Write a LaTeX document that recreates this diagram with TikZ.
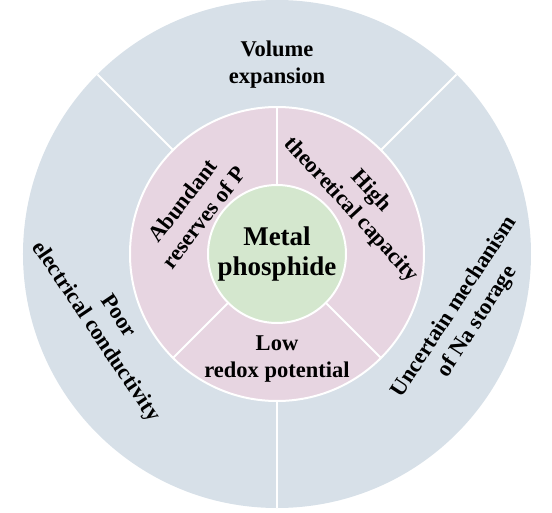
\documentclass[tikz,border=0pt]{standalone}
\usepackage{fontspec}
\setmainfont{Liberation Serif}
\definecolor{outerbg}{RGB}{215,224,232}
\definecolor{ringbg}{RGB}{231,213,225}
\definecolor{corebg}{RGB}{212,231,206}
\tikzset{lbl/.style={font=\bfseries\fontsize{22.5}{27}\selectfont, align=center, inner sep=0pt},
sep/.style={white, line width=2pt}}

\begin{document}
\begin{tikzpicture}[x=1pt,y=1pt]
\useasboundingbox (-277,-258) rectangle (275,254);
\coordinate (o) at (0,0);
\fill[outerbg] (o) circle (254);
\coordinate (Ra) at (45:254);
\coordinate (Rb) at (135:254);
\coordinate (Rc) at (270:254);
\coordinate (ra) at (45:147);
\coordinate (rb) at (135:147);
\coordinate (rc) at (270:147);
\draw[sep] (ra) -- (Ra);
\draw[sep] (rb) -- (Rb);
\draw[sep] (rc) -- (Rc);
\filldraw[ringbg, draw=white, line width=2pt] (o) circle (147);
\coordinate (pa) at (90:147);
\coordinate (pb) at (225:147);
\coordinate (pc) at (-45:147);
\coordinate (qa) at (90:69);
\coordinate (qb) at (225:69);
\coordinate (qc) at (-45:69);
\draw[sep] (qa) -- (pa);
\draw[sep] (qb) -- (pb);
\draw[sep] (qc) -- (pc);
\filldraw[corebg, draw=white, line width=2pt] (o) circle (69);
\node[lbl, font=\bfseries\fontsize{27}{30}\selectfont] (core) at (0,0) {Metal\\phosphide};
\node[lbl] (vol) at (0,189) {Volume\\expansion};
\node[lbl, rotate=-56] (cond) at (-170.5,-70.5) {Poor\\electrical conductivity};
\node[lbl, rotate=57] (mech) at (189,-60.5) {Uncertain mechanism\\of Na storage};
\node[lbl, rotate=52] (res) at (-84,45) {Abundant\\reserves of P};
\node[lbl, rotate=-47.5] (cap) at (84,53) {High\\theoretical capacity};
\node[lbl] (redox) at (0,-105) {Low\\redox potential};
\end{tikzpicture}
\end{document}
